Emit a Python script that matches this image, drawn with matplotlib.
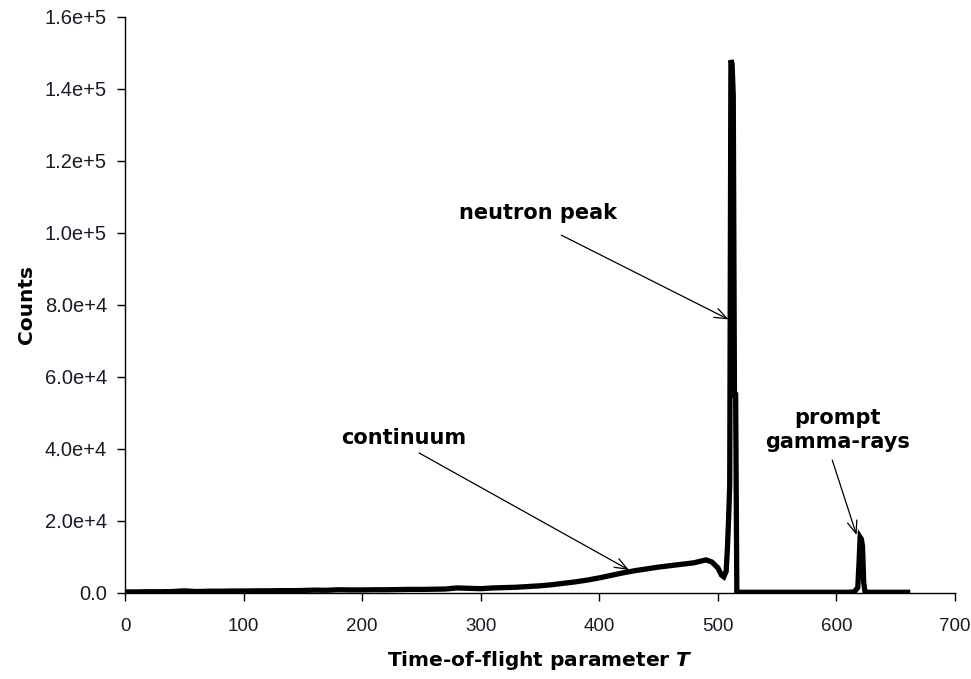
import matplotlib
matplotlib.use("Agg")
import matplotlib.pyplot as plt

# ---- data ----
T = [0, 10, 20, 30, 40, 50, 60, 70, 80, 90, 100, 110, 120, 130, 140, 150, 160, 170,
     180, 190, 200, 210, 220, 230, 240, 250, 260, 270, 280, 290, 300, 310, 320, 330,
     340, 350, 360, 370, 380, 390, 400, 410, 420, 430, 440, 450, 460, 470, 480, 485,
     490, 495, 500, 503, 505, 507, 508, 509, 510, 511, 512, 513, 514, 515, 516, 520,
     530, 540, 550, 560, 570, 580, 590, 600, 610, 615, 618, 619, 620, 621, 622, 623,
     624, 625, 630, 640, 650, 660]
counts = [300, 300, 350, 350, 400, 600, 400, 500, 500, 550, 550, 600, 600, 650, 650,
          700, 800, 750, 900, 850, 850, 900, 900, 950, 1000, 1000, 1050, 1100, 1400,
          1300, 1200, 1400, 1500, 1600, 1800, 2000, 2300, 2700, 3100, 3600, 4200, 4900,
          5600, 6200, 6700, 7200, 7600, 8000, 8400, 8800, 9200, 8600, 7000, 5000, 4500,
          6000, 12000, 20000, 30000, 148000, 147000, 138000, 55000, 55000, 200, 200,
          200, 200, 200, 200, 200, 200, 200, 200, 200, 300, 1500, 8000, 15500, 15000,
          13000, 3000, 500, 200, 200, 200, 200, 200]

xticks = [0, 100, 200, 300, 400, 500, 600, 700]
yticks = [0, 20000, 40000, 60000, 80000, 100000, 120000, 140000, 160000]
ytick_labels = ["0.0", "2.0e+4", "4.0e+4", "6.0e+4", "8.0e+4", "1.0e+5", "1.2e+5",
                "1.4e+5", "1.6e+5"]

# annotations: label, text position, arrow start, arrow tip
ann_labels = ["neutron peak", "continuum", "prompt\ngamma-rays"]
ann_text_xy = [(348, 105500), (235, 43000), (601, 45300)]
ann_start_xy = [(368, 99400), (248, 38900), (596.5, 36900)]
ann_tip_xy = [(509, 76000), (425, 6400), (617, 16100)]

# ---- figure ----
fig = plt.figure(figsize=(9.71, 6.79), dpi=100)
ax = fig.add_axes([125 / 971, 1 - 593 / 679, (955 - 125) / 971, (593 - 17) / 679])

ax.plot(T, counts, color="black", lw=3.8, solid_joinstyle="miter")

ax.set_xlim(0, 700)
ax.set_ylim(0, 160000)
ax.set_xticks(xticks)
ax.set_xticklabels([str(v) for v in xticks])
ax.set_yticks(yticks)
ax.set_yticklabels(ytick_labels)

for s in ["top", "right"]:
    ax.spines[s].set_visible(False)
for s in ["left", "bottom"]:
    ax.spines[s].set_linewidth(1.0)
ax.tick_params(direction="out", length=6, width=1.0, labelsize=14.5, colors="black")
ax.tick_params(axis="x", pad=12, labelsize=13.5)
ax.tick_params(axis="y", pad=7)
for lab in ax.get_xticklabels() + ax.get_yticklabels():
    lab.set_fontfamily("Liberation Sans")
    lab.set_color("#1a1a2a")

ax.set_ylabel("Counts", fontsize=14.5, fontweight="bold", family="DejaVu Sans",
              labelpad=6)
ax.set_xlabel(r"Time-of-flight parameter $\boldsymbol{T}$", fontsize=14.5,
              fontweight="bold", family="DejaVu Sans", labelpad=10)

for lab, txy, sxy, pxy in zip(ann_labels, ann_text_xy, ann_start_xy, ann_tip_xy):
    ax.text(txy[0], txy[1], lab, ha="center", va="center", fontsize=15,
            fontweight="bold", family="DejaVu Sans", linespacing=1.3)
    ax.annotate("", xy=pxy, xytext=sxy,
                arrowprops=dict(arrowstyle="->,head_length=0.9,head_width=0.35",
                                color="black", lw=0.9, shrinkA=0, shrinkB=0))

fig.savefig("out.png", dpi=100)
